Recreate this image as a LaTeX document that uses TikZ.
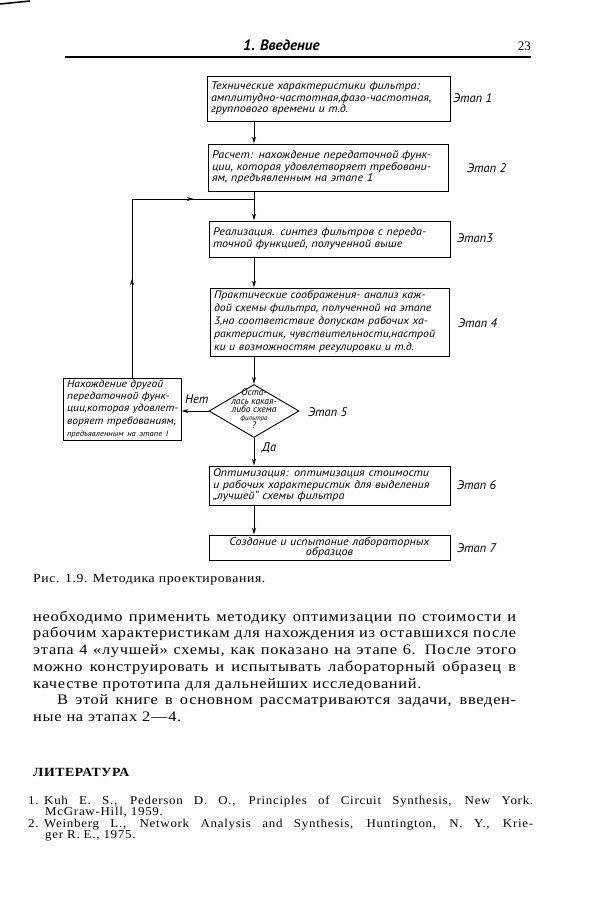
\documentclass[tikz,border=0pt]{standalone}
\usepackage{fontspec}
\setmainfont{Liberation Serif}
\newfontfamily\flowfont[FakeStretch=1.1]{PT Sans}
\newfontfamily\stagefont{PT Sans}
\newfontfamily\bodyfont[LetterSpace=5,FakeStretch=1.13]{Liberation Serif}
\newfontfamily\capfont[LetterSpace=5,FakeStretch=1.1]{Liberation Serif}
\newfontfamily\reffont[LetterSpace=6,FakeStretch=1.08]{Liberation Serif}
\usetikzlibrary{arrows.meta,shapes.geometric,decorations.markings}
\newcommand{\ml}[1]{\mbox{#1}}
\begin{document}
\begin{tikzpicture}[x=1pt,y=-1pt,
  box/.style={draw,line width=0.9pt,inner xsep=4pt,inner ysep=1pt,font=\flowfont\itshape\fontsize{11}{11.6}\selectfont,align=left},
  stage/.style={font=\stagefont\itshape\fontsize{12.5}{12.5}\selectfont,anchor=west,inner sep=0pt},
  arr/.style={line width=0.9pt,-{Stealth[length=7pt,width=4pt]}},
  ln/.style={line width=0.9pt},
  body/.style={anchor=base west,inner sep=0pt,font=\bodyfont\fontsize{14.5}{16}\selectfont},
  refs/.style={anchor=base west,inner sep=0pt,font=\reffont\fontsize{12}{12}\selectfont},
  midarrows/.style={decoration={markings,
     mark=at position 0.33 with {\arrow{Stealth[length=7pt,width=4pt]}},
     mark=at position 0.8 with {\arrow{Stealth[length=7pt,width=4pt]}}},postaction={decorate}}
]
\useasboundingbox (0,0) rectangle (595,900);
\fill[white] (0,0) rectangle (595,900);
% scan mark
\draw[line width=1.5pt] (0,4) -- (30,1);
% header
\node[anchor=base west,inner sep=0pt,font=\stagefont\bfseries\itshape\fontsize{15}{15}\selectfont] (hd) at (243,50) {1. Введение};
\node[anchor=base east,inner sep=0pt,font=\fontsize{13}{13}\selectfont] (pg) at (531,50) {23};
\draw[line width=1.3pt] (65,57) -- (531,57);

% flowchart
\node[box,text width=235pt,minimum height=45pt] (b1) at (328.5,98.5)
 {\ml{Технические характеристики фильтра:}\\\ml{амплитудно-частотная,фазо-частотная,}\\\ml{группового времени и т.д.}};
\node[box,text width=232pt,minimum height=47pt] (b2) at (328,167.5)
 {\ml{Расчет: нахождение передаточной функ-}\\\ml{ции, которая удовлетворяет требовани-}\\\ml{ям, предъявленным на этапе 1}};
\node[box,text width=233pt,minimum height=36pt] (b3) at (329.5,239)
 {\ml{Реализация. синтез фильтров с переда-}\\\ml{точной функцией, полученной выше}};
\node[box,text width=231pt,minimum height=68pt,font=\flowfont\itshape\fontsize{10.8}{13}\selectfont] (b4) at (329.5,322)
 {\ml{Практические соображения- анализ каж-}\\\ml{дой схемы фильтра, полученной на этапе}\\\ml{3,на соответствие допускам рабочих ха-}\\\ml{рактеристик, чувствительности,настрой}\\\ml{ки и возможностям регулировки и т.д.}};
\node[diamond,draw,line width=0.9pt,minimum width=90pt,minimum height=53pt,inner sep=0pt] (d) at (254,411) {};
\node[inner sep=0pt,align=center,font=\stagefont\itshape\fontsize{9.5}{8.2}\selectfont] (dt) at (254,409)
 {Оста-\\лась какая-\\либо схема\\{\fontsize{7}{7}\selectfont фильтра}\\?};
\node[box,text width=110pt,minimum height=62pt,font=\flowfont\itshape\fontsize{10.5}{12.3}\selectfont] (lb) at (122,409)
 {\ml{Нахождение другой}\\\ml{передаточной функ-}\\\ml{ции,которая удовлет-}\\\ml{воряет требованиям,}\\\ml{\fontsize{7.8}{12.3}\selectfont предъявленным на этапе I}};
\node[box,text width=233pt,minimum height=39pt] (b6) at (329.5,485.5)
 {\ml{Оптимизация: оптимизация стоимости}\\\ml{и рабочих характеристик для выделения}\\\ml{„лучшей“ схемы фильтра}};
\node[box,text width=233pt,minimum height=25pt,align=center,font=\flowfont\itshape\fontsize{11}{10.5}\selectfont] (b7) at (329.5,547.5)
 {Создание и испытание лабораторных\\образцов};

% stage labels
\node[stage] (e1) at (453,98) {Этап 1};
\node[stage] (e2) at (467,168) {Этап 2};
\node[stage] (e3) at (457,238) {Этап3};
\node[stage] (e4) at (458,323) {Этап 4};
\node[stage] (e5) at (308,412) {Этап 5};
\node[stage] (e6) at (457,485) {Этап 6};
\node[stage] (e7) at (457,548) {Этап 7};
\node[stage] (no) at (185,399) {Нет};
\node[stage] (yes) at (262,448) {Да};

% connectors
\coordinate (fb) at (132,199);
\coordinate (join) at (254,199);
\draw[arr] (b1.south -| d.north) -- (b2.north -| d.north);
\draw[ln] (b2.south -| d.north) -- (join);
\draw[arr] (join) -- (b3.north -| join);
\draw[ln,midarrows] (lb.north -| fb) -- (fb) -- (join);
\draw[arr] (b3.south -| d.north) -- (b4.north -| d.north);
\draw[arr] (b4.south -| d.north) -- (d.north);
\draw[arr] (d.west) -- (d.west -| lb.east);
\draw[arr] (d.south) -- (b6.north -| d.south);
\draw[arr] (b6.south -| d.south) -- (b7.north -| d.south);

% caption
\node[anchor=base west,inner sep=0pt,font=\capfont\fontsize{12.5}{12}\selectfont] (cap) at (33,582) {Рис. 1.9. Методика проектирования.};

% body text
\node[body] (l1) at (33,621) {\makebox[483pt][s]{необходимо применить методику оптимизации по стоимости и}};
\node[body] (l2) at (33,637.7) {\makebox[483pt][s]{рабочим характеристикам для нахождения из оставшихся после}};
\node[body] (l3) at (33,654.4) {\makebox[483pt][s]{этапа 4 «лучшей» схемы, как показано на этапе 6. После этого}};
\node[body] (l4) at (33,671) {\makebox[483pt][s]{можно конструировать и испытывать лабораторный образец в}};
\node[body] (l5) at (33,688) {качестве прототипа для дальнейших исследований.};
\node[body] (l6) at (57,704.5) {\makebox[459pt][s]{В этой книге в основном рассматриваются задачи, введен-}};
\node[body] (l7) at (33,721) {ные на этапах 2—4.};

% references
\node[anchor=base west,inner sep=0pt,font=\capfont\bfseries\fontsize{12.5}{12}\selectfont] (lit) at (33,776) {ЛИТЕРАТУРА};
\node[refs] (r1) at (28,804) {\makebox[16pt][l]{1.}\makebox[489pt][s]{Kuh E. S., Pederson D. O., Principles of Circuit Synthesis, New York.}};
\node[refs] (r1b) at (45,815) {McGraw-Hill, 1959.};
\node[refs] (r2) at (28,827) {\makebox[16pt][l]{2.}\makebox[489pt][s]{Weinberg L., Network Analysis and Synthesis, Huntington, N. Y., Krie-}};
\node[refs] (r2b) at (45,838) {ger R. E., 1975.};
\end{tikzpicture}
\end{document}
